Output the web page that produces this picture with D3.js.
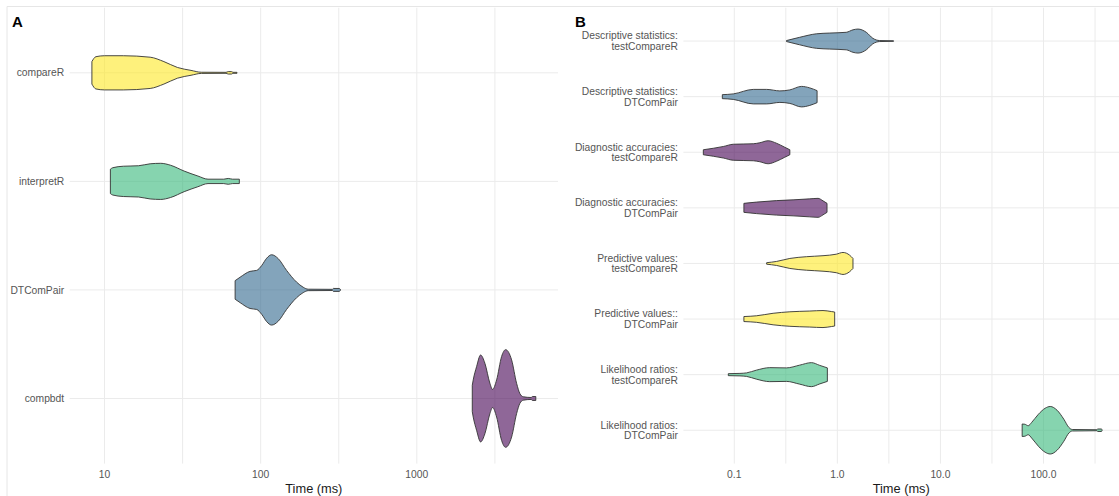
<!DOCTYPE html>
<html>
<head>
<meta charset="utf-8">
<script src="https://cdn.jsdelivr.net/npm/d3@7/dist/d3.min.js"></script>
<style>
  body { margin: 0; background: #fff; }
  svg { display: block; font-family: "Liberation Sans", Arial, sans-serif; }
  .grid line { stroke: #ebebeb; stroke-width: 1; }
  .tick-label { fill: #555; font-size: 10.3px; }
  .axis-title { fill: #1a1a1a; font-size: 12.8px; }
  .tag { fill: #000; font-size: 15px; font-weight: bold; }
  .violin { stroke: #333; stroke-width: 0.9; fill-opacity: 0.6; stroke-linejoin: round; }
</style>
</head>
<body>
<div id="chart"></div>
<script>

// Panel A: whole run time of each package, [time in ms, relative density]
var panelACategories = ["compareR", "interpretR", "DTComPair", "compbdt"];
var panelATicks = [10, 100, 1000];

var compareR = [[8.3, .23], [8.8, .33], [10, .35], [13.2, .35], [19.6, .32], [24, .23],
	[29.3, .11], [35.8, .05], [41.7, .012], [60, .01], [62, .025], [65, .025], [66.5, .01], [70.5, .01]];
var interpretR = [[10.9, .25], [11.3, .28], [13.2, .31], [16.5, .32], [19.6, .36], [22.9, .37],
	[26.5, .33], [32.4, .21], [39.6, .11], [46, .045], [58, .045], [62, .06], [66, .045], [73, .045]];
var dtcompairA = [[68.6, .19], [73.8, .26], [85.5, .38], [94.3, .40], [101.5, .50], [109.3, .65],
	[117.5, .72], [129.6, .64], [146.5, .40], [169.8, .16], [187.2, .055], [201.4, .015],
	[288, .012], [292, .03], [318, .03], [324, .012]];
var compbdt = [[2265, .27], [2297, .38], [2413, .65], [2561, .89], [2729, .72], [2938, .31],
	[3055, .185], [3243, .38], [3491, .86], [3702, 1.0], [4045, .79], [4355, .31], [4571, .10],
	[4800, .035], [5400, .02], [5500, .04], [5780, .04]];

// Panel B: run time of single functions, [time in ms, relative density]
var panelBCategories = [
	["Descriptive statistics:", "testCompareR"],
	["Descriptive statistics:", "DTComPair"],
	["Diagnostic accuracies:", "testCompareR"],
	["Diagnostic accuracies:", "DTComPair"],
	["Predictive values:", "testCompareR"],
	["Predictive values::", "DTComPair"],
	["Likelihood ratios:", "testCompareR"],
	["Likelihood ratios:", "DTComPair"]
];
var panelBTicks = [0.1, 1, 10, 100];

var descTest = [[0.321, .02], [0.431, .15], [0.626, .29], [0.843, .32], [1.22, .35], [1.42, .45],
	[1.585, .48], [1.91, .35], [2.21, .11], [2.57, .02], [3.51, .01]];
var descDT = [[0.0766, .08], [0.0978, .11], [0.153, .29], [0.206, .29], [0.277, .23], [0.346, .27],
	[0.449, .41], [0.540, .35], [0.636, .24]];
var diagTest = [[0.0501, .1], [0.0627, .16], [0.0783, .23], [0.0978, .32], [0.122, .33], [0.153, .34],
	[0.177, .38], [0.213, .46], [0.257, .36], [0.309, .2], [0.346, .1]];
var diagDT = [[0.124, .18], [0.164, .23], [0.257, .29], [0.372, .32], [0.540, .36], [0.650, .38],
	[0.726, .28], [0.794, .18]];
var predTest = [[0.206, .03], [0.257, .08], [0.346, .2], [0.501, .27], [0.726, .31], [0.977, .37],
	[1.135, .44], [1.316, .33], [1.418, .2]];
var predDT = [[0.124, .1], [0.164, .13], [0.238, .23], [0.346, .29], [0.540, .32], [0.726, .34],
	[0.875, .3], [0.942, .28]];
var lrTest = [[0.0875, .04], [0.1135, .05], [0.1316, .07], [0.164, .18], [0.221, .28], [0.321, .27],
	[0.431, .38], [0.560, .48], [0.675, .37], [0.80, .27]];
var lrDT = [[62.1, .25], [65.9, .24], [71.1, .18], [76.7, .31], [89.3, .64], [103.8, .88],
	[116.3, .95], [135.4, .8], [157.5, .44], [176.5, .11], [190.4, .03], [330, .02],
	[336, .05], [365, .05], [370, .02]];

// viridis (4 levels)
var purple = "#440154", blue = "#31688e", green = "#35b779", yellow = "#fde725";

var panelAViolins = [compareR, interpretR, dtcompairA, compbdt];
var panelAFills = [yellow, green, blue, purple];
var panelBViolins = [descTest, descDT, diagTest, diagDT, predTest, predDT, lrTest, lrDT];
var panelBFills = [blue, blue, purple, purple, yellow, yellow, green, green];

// Display sizes
var width = 1119,
	height = 496,
	panelTop = 7.7,
	panelBottom = 463.6;

var svg = d3.select("#chart").append("svg")
	.attr("width", width)
	.attr("height", height);

svg.append("rect")
	.attr("width", width)
	.attr("height", height)
	.attr("fill", "#fff");

// Faint frame of the figure
svg.append("line")
	.attr("x1", 7).attr("x2", width).attr("y1", 6.5).attr("y2", 6.5)
	.attr("stroke", "#e6e6e6");
svg.append("line")
	.attr("x1", 7).attr("x2", 7).attr("y1", 6.5).attr("y2", height)
	.attr("stroke", "#e6e6e6");

/**
 * Log x scale over the data, expanded by 5% on each side like ggplot does.
 */
function logScale(violins, range) {
	var all = d3.merge(violins);
	var lo = Math.log10(d3.min(all, function(d) { return d[0]; }));
	var hi = Math.log10(d3.max(all, function(d) { return d[0]; }));
	var pad = (hi - lo) * 0.05;
	return d3.scaleLog()
		.domain([Math.pow(10, lo - pad), Math.pow(10, hi + pad)])
		.range(range);
}

/**
 * Draw one panel of horizontal violins.
 */
function drawPanel(opts) {
	var x = logScale(opts.violins, opts.xRange);
	var y = d3.scalePoint()
		.domain(d3.range(opts.labels.length))
		.range([panelTop, panelBottom])
		.padding(0.6);
	var w = d3.scaleLinear()
		.domain([0, 1])
		.range([0, 0.45 * y.step()]);

	var g = svg.append("g");

	// Grid: majors at the ticks, minors half way in log space
	var dom = x.domain();
	var gridValues = [];
	for (var e = Math.floor(Math.log10(dom[0])) - 1; e <= Math.ceil(Math.log10(dom[1])); e++) {
		[e, e + 0.5].forEach(function(p) {
			var v = Math.pow(10, p);
			if (v >= dom[0] && v <= dom[1]) gridValues.push(v);
		});
	}

	var grid = g.append("g").attr("class", "grid");
	grid.selectAll(".gx")
		.data(gridValues)
		.enter().append("line")
			.attr("x1", function(d) { return x(d); })
			.attr("x2", function(d) { return x(d); })
			.attr("y1", panelTop)
			.attr("y2", panelBottom);
	grid.selectAll(".gy")
		.data(y.domain())
		.enter().append("line")
			.attr("x1", opts.xRange[0])
			.attr("x2", opts.xRange[1])
			.attr("y1", function(d) { return y(d); })
			.attr("y2", function(d) { return y(d); });

	// Violins
	opts.violins.forEach(function(data, i) {
		var cy = y(i);
		var area = d3.area()
			.x(function(d) { return x(d[0]); })
			.y0(function(d) { return cy + w(d[1]); })
			.y1(function(d) { return cy - w(d[1]); })
			.curve(d3.curveMonotoneX);
		g.append("path")
			.attr("class", "violin")
			.attr("fill", opts.fills[i])
			.attr("d", area(data));
	});

	// Y labels (one or two lines)
	var labels = g.selectAll(".ylab")
		.data(opts.labels)
		.enter().append("text")
			.attr("class", "tick-label")
			.attr("text-anchor", "end")
			.attr("x", opts.xRange[0] - 5.5)
			.attr("y", function(d, i) { return y(i); });
	labels.each(function(d) {
		var lines = [].concat(d);
		var t = d3.select(this);
		lines.forEach(function(line, k) {
			t.append("tspan")
				.attr("x", opts.xRange[0] - 5.5)
				.attr("dy", k === 0 ? (3.6 - (lines.length - 1) * 5.2) + "px" : "10.5px")
				.text(line);
		});
	});

	// X tick labels
	g.selectAll(".xlab")
		.data(opts.ticks)
		.enter().append("text")
			.attr("class", "tick-label")
			.attr("text-anchor", "middle")
			.attr("x", function(d) { return x(d); })
			.attr("y", 478)
			.text(opts.format);

	// Axis title
	g.append("text")
		.attr("class", "axis-title")
		.attr("text-anchor", "middle")
		.attr("x", (opts.xRange[0] + Math.min(opts.xRange[1], width)) / 2)
		.attr("y", 492.5)
		.text("Time (ms)");

	// Panel tag
	g.append("text")
		.attr("class", "tag")
		.attr("x", opts.tagX)
		.attr("y", 27)
		.text(opts.tag);
}

drawPanel({
	labels: panelACategories,
	violins: panelAViolins,
	fills: panelAFills,
	ticks: panelATicks,
	format: d3.format("d"),
	xRange: [69.7, 558],
	tag: "A",
	tagX: 12
});

drawPanel({
	labels: panelBCategories,
	violins: panelBViolins,
	fills: panelBFills,
	ticks: panelBTicks,
	format: d3.format(".1f"),
	xRange: [683.4, 1122],
	tag: "B",
	tagX: 575
});

</script>
</body>
</html>
